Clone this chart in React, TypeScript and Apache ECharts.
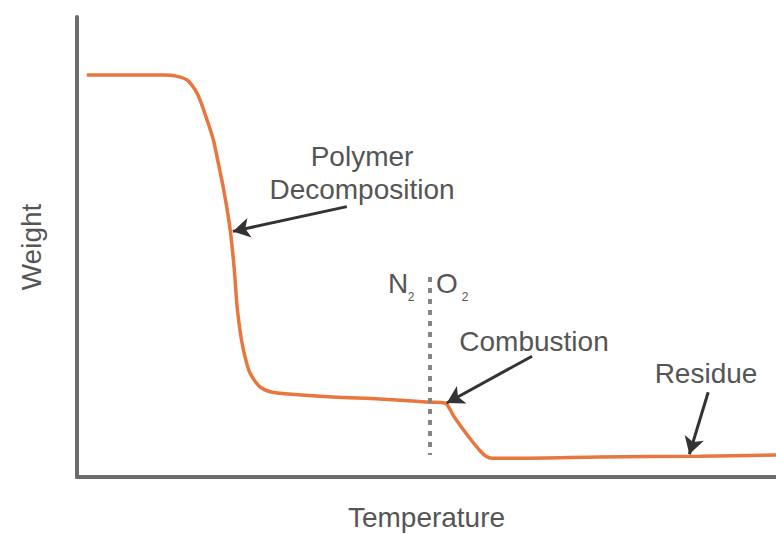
import React, { useEffect, useRef } from "react";
import * as echarts from "echarts";

// Temperature (arbitrary units) and weight (%)
const temperature = [14, 76, 126, 140, 157, 169, 176, 186, 195, 202, 209, 216, 220, 225, 229, 233, 237, 242, 247, 255, 262, 273, 286, 366, 433, 505, 526, 539, 552, 565, 577, 585, 594, 634, 748, 891, 1000];
const weight = [100.5, 100.5, 100.5, 100.3, 99.3, 96.8, 94.3, 89.3, 84.3, 78.6, 72.6, 65.6, 60.6, 51.9, 42.7, 36.9, 32.7, 28.9, 26.2, 23.9, 22.5, 21.5, 21.0, 20.0, 19.5, 18.7, 18.5, 15.2, 12.0, 9.0, 6.5, 5.2, 4.7, 4.7, 5.0, 5.2, 5.5];

// Gas switch (N2 -> O2)
const switchTemp = 505;
const switchRange = [50, 5.5];

// Annotation arrows: [fromTemp, fromWeight, toTemp, toWeight]
const arrowPolymer = [386, 67.6, 223, 61.4];
const arrowCombustion = [651, 30.2, 529, 18.5];
const arrowResidue = [903, 21.2, 876, 5.7];

const labels = {
  polymer1: "Polymer",
  polymer2: "Decomposition",
  combustion: "Combustion",
  residue: "Residue",
  xName: "Temperature",
  yName: "Weight",
};

const FONT = "'Liberation Sans', Arial, sans-serif";
const TEXT_COLOR = "#555555";

export default function App() {
  const ref = useRef<HTMLDivElement>(null);
  useEffect(() => {
    if (!ref.current) return;
    const chart = echarts.init(ref.current, null, { renderer: "svg" });
    const arrowSeries = (a: number[]) => ({
      type: "line",
      data: [],
      silent: true,
      markLine: {
        silent: true,
        animation: false,
        symbol: ["none", "arrow"],
        symbolSize: [15, 17],
        label: { show: false },
        lineStyle: { color: "#333333", width: 3, type: "solid" },
        emphasis: { disabled: true },
        data: [[{ coord: [a[0], a[1]] }, { coord: [a[2], a[3]] }]],
      },
    });
    const txt = (text: string, x: number, y: number, size = 28) => ({
      type: "text",
      x,
      y,
      silent: true,
      style: {
        text,
        fill: TEXT_COLOR,
        font: `${size}px ${FONT}`,
        align: "center",
        verticalAlign: "middle",
      },
    });
    chart.setOption({
      animation: false,
      backgroundColor: "#ffffff",
      grid: { left: 77, right: 0, top: 17, bottom: 58 },
      xAxis: {
        type: "value",
        min: 0,
        max: 1000,
        name: labels.xName,
        nameLocation: "middle",
        nameGap: 26,
        nameTextStyle: { fontSize: 28, color: TEXT_COLOR, fontFamily: FONT },
        axisLine: { show: true, lineStyle: { color: "#6b6b6b", width: 4 } },
        axisTick: { show: false },
        axisLabel: { show: false },
        splitLine: { show: false },
      },
      yAxis: {
        type: "value",
        min: 0,
        max: 115,
        name: labels.yName,
        nameLocation: "middle",
        nameRotate: 90,
        nameGap: 32,
        nameTextStyle: { fontSize: 28, color: TEXT_COLOR, fontFamily: FONT },
        axisLine: { show: true, lineStyle: { color: "#6b6b6b", width: 4 } },
        axisTick: { show: false },
        axisLabel: { show: false },
        splitLine: { show: false },
      },
      series: [
        {
          type: "line",
          data: temperature.map((t, i) => [t, weight[i]]),
          symbol: "none",
          smooth: 0.3,
          silent: true,
          lineStyle: { color: "#e8773d", width: 3.5 },
          z: 3,
        },
        {
          type: "line",
          data: [],
          silent: true,
          markLine: {
            silent: true,
            symbol: ["none", "none"],
            label: { show: false },
            lineStyle: { color: "#858585", width: 4, type: [5, 6] },
            data: [[{ coord: [switchTemp, switchRange[0]] }, { coord: [switchTemp, switchRange[1]] }]],
          },
          z: 2,
        },
        arrowSeries(arrowPolymer),
        arrowSeries(arrowCombustion),
        arrowSeries(arrowResidue),
      ],
      graphic: [
        txt(labels.polymer1, 362, 156),
        txt(labels.polymer2, 362, 189),
        txt(labels.combustion, 534, 341),
        txt(labels.residue, 706, 373),
        txt("N", 398, 283),
        txt("2", 411, 297, 12),
        txt("O", 447, 283),
        txt("2", 465, 297, 12),
      ],
    });
    return () => chart.dispose();
  }, []);
  return (
    <div
      ref={ref}
      style={{ position: "fixed", left: 0, top: 0, width: 776, height: 536, background: "#fff" }}
    />
  );
}
